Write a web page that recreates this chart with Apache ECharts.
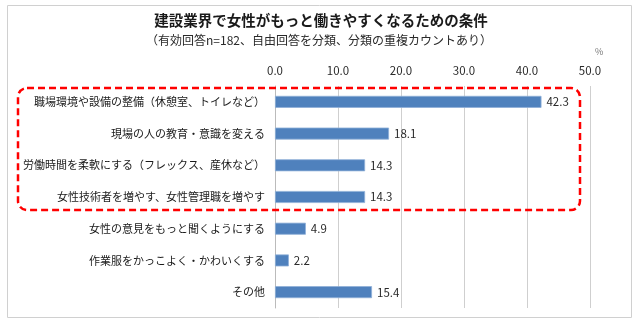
<!DOCTYPE html>
<html><head><meta charset="utf-8">
<script src="https://cdn.jsdelivr.net/npm/echarts@6/dist/echarts.min.js"></script>
<style>html,body{margin:0;padding:0;background:#fff}#c{width:640px;height:328px}</style>
</head><body><div id="c"></div>
<script>
const titleText = '建設業界で女性がもっと働きやすくなるための条件';
const subtitleText = '（有効回答n=182、自由回答を分類、分類の重複カウントあり）';
const unitText = '%';
const categories = [
  '職場環境や設備の整備（休憩室、トイレなど）',
  '現場の人の教育・意識を変える',
  '労働時間を柔軟にする（フレックス、産休など）',
  '女性技術者を増やす、女性管理職を増やす',
  '女性の意見をもっと聞くようにする',
  '作業服をかっこよく・かわいくする',
  'その他'
];
const values = [42.3, 18.1, 14.3, 14.3, 4.9, 2.2, 15.4];
const axisMin = 0, axisMax = 50, axisStep = 10;

const font = '"Noto Sans CJK JP", "Noto Sans", sans-serif';
const chart = echarts.init(document.getElementById('c'), null, {renderer:'canvas'});
const grid = {left: 275, right: 50, top: 86, bottom: 20};
chart.setOption({
  animation: false,
  textStyle: {fontFamily: font},
  title: [
    {text: titleText, left: 316, top: 8, textAlign: 'center',
     textStyle: {fontSize: 14.5, fontWeight: 'bold', color: '#1a1a1a', fontFamily: font}},
    {text: subtitleText, left: 314, top: 29, textAlign: 'center',
     textStyle: {fontSize: 12, fontWeight: 'normal', color: '#2a2a2a', fontFamily: font}},
    {text: unitText, left: 590, top: 42,
     textStyle: {fontSize: 9, fontWeight: 'normal', color: '#777', fontFamily: font}}
  ],
  grid: grid,
  xAxis: {
    type: 'value', position: 'top', min: axisMin, max: axisMax, interval: axisStep,
    axisLine: {show: false}, axisTick: {show: false},
    axisLabel: {formatter: v => v.toFixed(1), color: '#2a2a2a', fontSize: 11.5, margin: 10},
    splitLine: {show: true, lineStyle: {color: '#cfcfcf', width: 1}}
  },
  yAxis: {
    type: 'category', data: categories, inverse: true,
    axisLine: {show: true, lineStyle: {color: '#bbb'}}, axisTick: {show: false},
    axisLabel: {color: '#1a1a1a', fontSize: 11, margin: 10}
  },
  series: [{
    type: 'bar', data: values, barWidth: 12,
    itemStyle: {color: '#4F81BD', borderColor: '#8fb0d8', borderWidth: 0.8},
    label: {show: true, position: 'right', distance: 5, color: '#2a2a2a', fontSize: 11.5,
            formatter: p => p.value.toFixed(1)}
  }],
  graphic: [
    {type: 'rect', shape: {x: 7.5, y: 5.5, width: 624, height: 312}, silent: true,
     style: {fill: 'none', stroke: '#d0d0d0', lineWidth: 1}, z: -1},
    {type: 'rect', shape: {x: 18, y: 88, width: 562, height: 122, r: 9}, silent: true,
     style: {fill: 'none', stroke: '#ff0000', lineWidth: 2.5, lineDash: [7, 4]}, z: 100}
  ]
});
</script></body></html>
